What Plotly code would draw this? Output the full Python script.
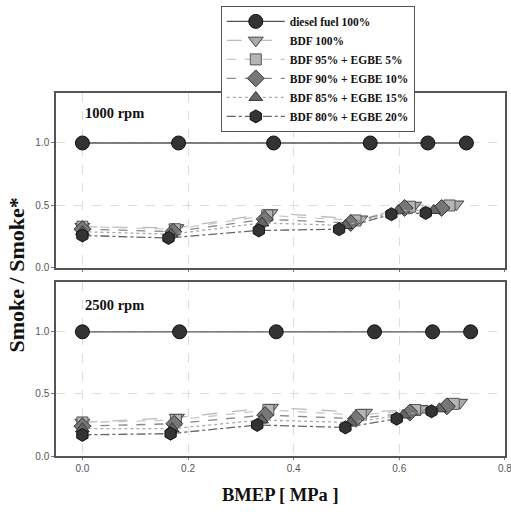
import plotly.graph_objects as go

series_names = ["diesel fuel 100%", "BDF 100%", "BDF 95% + EGBE 5%",
                "BDF 90% + EGBE 10%", "BDF 85% + EGBE 15%", "BDF 80% + EGBE 20%"]

# 1000 rpm (top panel)
x1000_diesel = [0.0, 0.182, 0.362, 0.545, 0.654, 0.727]
y1000_diesel = [1.0, 1.0, 1.0, 1.0, 1.0, 1.0]
x1000_bdf100 = [0.0, 0.178, 0.356, 0.526, 0.628, 0.708]
y1000_bdf100 = [0.33, 0.32, 0.44, 0.39, 0.50, 0.51]
x1000_e5 = [0.0, 0.175, 0.350, 0.517, 0.620, 0.695]
y1000_e5 = [0.33, 0.31, 0.42, 0.38, 0.49, 0.50]
x1000_e10 = [0.0, 0.172, 0.345, 0.508, 0.610, 0.680]
y1000_e10 = [0.31, 0.29, 0.39, 0.36, 0.48, 0.48]
x1000_e15 = [0.0, 0.168, 0.340, 0.498, 0.598, 0.665]
y1000_e15 = [0.29, 0.27, 0.36, 0.34, 0.46, 0.46]
x1000_e20 = [0.0, 0.163, 0.334, 0.486, 0.585, 0.650]
y1000_e20 = [0.26, 0.24, 0.30, 0.31, 0.43, 0.44]

# 2500 rpm (bottom panel)
x2500_diesel = [0.0, 0.184, 0.367, 0.553, 0.663, 0.735]
y2500_diesel = [1.0, 1.0, 1.0, 1.0, 1.0, 1.0]
x2500_bdf100 = [0.0, 0.179, 0.357, 0.535, 0.640, 0.715]
y2500_bdf100 = [0.27, 0.31, 0.39, 0.35, 0.38, 0.43]
x2500_e5 = [0.0, 0.177, 0.352, 0.527, 0.630, 0.703]
y2500_e5 = [0.27, 0.29, 0.37, 0.33, 0.37, 0.42]
x2500_e10 = [0.0, 0.174, 0.346, 0.518, 0.620, 0.690]
y2500_e10 = [0.24, 0.26, 0.33, 0.30, 0.35, 0.40]
x2500_e15 = [0.0, 0.170, 0.339, 0.508, 0.608, 0.676]
y2500_e15 = [0.22, 0.22, 0.29, 0.27, 0.33, 0.38]
x2500_e20 = [0.0, 0.167, 0.331, 0.498, 0.595, 0.661]
y2500_e20 = [0.17, 0.18, 0.25, 0.23, 0.30, 0.36]

panel_labels = ["1000 rpm", "2500 rpm"]
x_ticks = [0.0, 0.2, 0.4, 0.6, 0.8]
y_ticks = [0.0, 0.5, 1.0]

styles = [
    dict(line=dict(color="#555555", width=1.3, dash="solid"),
         marker=dict(symbol="circle", size=14, color="#333333", line=dict(color="#111111", width=1))),
    dict(line=dict(color="#bbbbbb", width=1.3, dash="longdash"),
         marker=dict(symbol="triangle-down", size=13, color="#aaaaaa", line=dict(color="#444444", width=1))),
    dict(line=dict(color="#c8c8c8", width=1.3, dash="dash"),
         marker=dict(symbol="square", size=11, color="#b5b5b5", line=dict(color="#555555", width=1))),
    dict(line=dict(color="#888888", width=1.3, dash="dash"),
         marker=dict(symbol="diamond", size=13, color="#777777", line=dict(color="#333333", width=1))),
    dict(line=dict(color="#aaaaaa", width=1.3, dash="dot"),
         marker=dict(symbol="triangle-up", size=12, color="#666666", line=dict(color="#333333", width=1))),
    dict(line=dict(color="#666666", width=1.3, dash="dashdot"),
         marker=dict(symbol="hexagon", size=13, color="#333333", line=dict(color="#111111", width=1))),
]

top = [(x1000_diesel, y1000_diesel), (x1000_bdf100, y1000_bdf100), (x1000_e5, y1000_e5),
       (x1000_e10, y1000_e10), (x1000_e15, y1000_e15), (x1000_e20, y1000_e20)]
bot = [(x2500_diesel, y2500_diesel), (x2500_bdf100, y2500_bdf100), (x2500_e5, y2500_e5),
       (x2500_e10, y2500_e10), (x2500_e15, y2500_e15), (x2500_e20, y2500_e20)]

fig = go.Figure()
for i, (xs, ys) in enumerate(top):
    fig.add_trace(go.Scatter(x=xs, y=ys, mode="lines+markers", name="<b>" + series_names[i] + "</b>",
                             xaxis="x", yaxis="y", showlegend=True, **styles[i]))
for i, (xs, ys) in enumerate(bot):
    fig.add_trace(go.Scatter(x=xs, y=ys, mode="lines+markers", name=series_names[i],
                             xaxis="x2", yaxis="y2", showlegend=False, **styles[i]))

tickfont = dict(family="Liberation Sans, Arial", size=10, color="#555555")
axcommon = dict(range=[-0.05, 0.8001], tickvals=x_ticks, showline=True, linecolor="#555555",
                linewidth=1.5, mirror=True, showgrid=True, gridcolor="#dddddd",
                griddash="dash", gridwidth=1, zeroline=False, ticks="outside", ticklen=2,
                tickcolor="#777777", tickfont=tickfont, automargin=False,
                ticklabeloverflow="allow")
ycommon = dict(range=[0, 1.4], tickvals=y_ticks, tickformat=".1f", showline=True,
               linecolor="#555555", linewidth=1.5, mirror=True, showgrid=True,
               gridcolor="#dddddd", griddash="dash", gridwidth=1, zeroline=False,
               ticks="outside", ticklen=3, tickcolor="#777777", tickfont=tickfont,
               automargin=False)

fig.update_layout(
    width=511, height=516,
    margin=dict(l=56, r=6, t=93, b=60, autoexpand=False),
    plot_bgcolor="white", paper_bgcolor="white",
    xaxis=dict(axcommon, anchor="y", showticklabels=False),
    yaxis=dict(ycommon, domain=[0.518, 1.0], anchor="x"),
    xaxis2=dict(axcommon, anchor="y2", tickformat=".1f"),
    yaxis2=dict(ycommon, domain=[0.0, 0.479], anchor="x2"),
    legend=dict(x=0.367, y=1.24, xanchor="left", yanchor="top",
                bgcolor="white", bordercolor="#555555", borderwidth=1,
                font=dict(family="Liberation Serif, Times New Roman", size=11.5, color="#111111"),
                tracegroupgap=0, itemwidth=58),
    showlegend=True,
)

fig.add_annotation(text="<b>" + panel_labels[0] + "</b>", xref="paper", yref="paper",
                   x=0.13, y=0.945, showarrow=False, xanchor="center", yanchor="middle",
                   font=dict(family="Liberation Serif, Times New Roman", size=14.5, color="#111111"))
fig.add_annotation(text="<b>" + panel_labels[1] + "</b>", xref="paper", yref="paper",
                   x=0.13, y=0.416, showarrow=False, xanchor="center", yanchor="middle",
                   font=dict(family="Liberation Serif, Times New Roman", size=14.5, color="#111111"))
fig.add_annotation(text="<b>Smoke / Smoke*</b>", xref="paper", yref="paper",
                   x=-0.087, y=0.5, showarrow=False, textangle=-90, xanchor="center", yanchor="middle",
                   font=dict(family="Liberation Serif, Times New Roman", size=22, color="#111111"))
fig.add_annotation(text="<b>BMEP [ MPa ]</b>", xref="paper", yref="paper",
                   x=0.5, y=-0.108, showarrow=False, xanchor="center", yanchor="middle",
                   font=dict(family="Liberation Serif, Times New Roman", size=18.5, color="#111111"))

fig.write_html("out.html", config={"displayModeBar": False},
               post_script="document.body.style.margin='0';document.body.style.overflow='hidden';")
